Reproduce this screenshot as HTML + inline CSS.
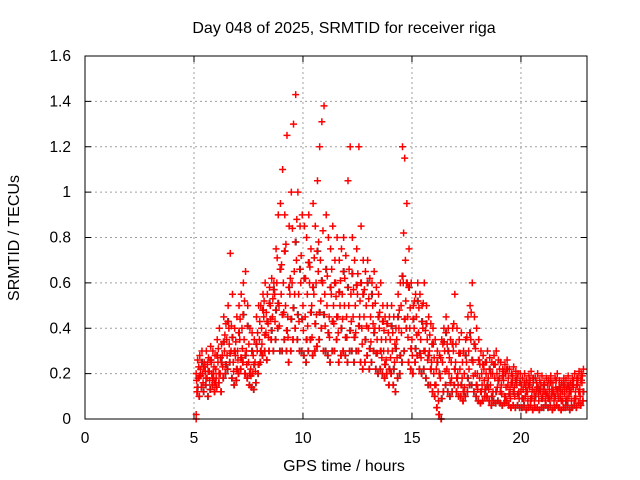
<!DOCTYPE html>
<html><head><meta charset="utf-8"><style>
body{margin:0;background:#fff;}
svg{display:block;font-family:"Liberation Sans",sans-serif;}
</style></head><body>
<svg id="chart" width="640" height="480">
<text x="344" y="33" text-anchor="middle" font-size="16">Day 048 of 2025, SRMTID for receiver riga</text>
<text x="344" y="471" text-anchor="middle" font-size="16">GPS time / hours</text>
<text x="19" y="238" text-anchor="middle" font-size="16" transform="rotate(-90 19 238)">SRMTID / TECUs</text>
<g id="grid"></g><g id="ticks"></g><g id="marks"></g>
<rect x="85" y="56" width="502" height="363" fill="none" stroke="#000" stroke-width="1"/>
</svg>
<script>
const xTicks=[0,5,10,15,20];
const yTicks=[0,0.2,0.4,0.6,0.8,1,1.2,1.4,1.6];
const yTickLabels=["0","0.2","0.4","0.6","0.8","1","1.2","1.4","1.6"];
const startHour=5.1, stepHour=0.1;
const lowVals=[.2,.18,.22,.2,.24,.18,.21,.25,.2,
.22,.25,.2,.28,.3,.35,.4,.3,.25,.28,
.3,.35,.4,.35,.3,.25,.22,.2,.25,.3,
.35,.4,.45,.38,.42,.5,.45,.55,.6,.5,
.55,.6,.5,.45,.55,.6,.65,.7,.55,.6,
.5,.45,.55,.6,.5,.55,.6,.65,.7,.6,
.55,.5,.45,.55,.5,.6,.45,.5,.55,.5,
.45,.5,.55,.45,.5,.55,.45,.4,.45,.5,
.4,.45,.5,.4,.35,.4,.35,.3,.35,.3,
.35,.3,.25,.35,.4,.5,.6,.7,.45,.4,
.35,.4,.45,.38,.35,.4,.3,.35,.3,.25,
.2,.15,.12,.18,.25,.3,.22,.2,.25,.3,
.25,.2,.22,.18,.2,.25,.3,.35,.25,.2,
.2,.18,.2,.22,.2,.18,.15,.2,.18,.2,
.18,.15,.17,.2,.15,.13,.16,.14,.15,.12,
.12,.13,.1,.12,.14,.1,.12,.13,.11,.12,
.1,.12,.11,.13,.1,.12,.14,.11,.1,.12,
.11,.13,.1,.12,.14,.12,.15,.13,.16];
const midVals=[.12,.1,.14,.12,.15,.1,.13,.15,.12,
.14,.16,.12,.18,.2,.22,.25,.18,.15,.17,
.2,.22,.25,.2,.18,.15,.14,.13,.16,.2,
.25,.28,.3,.26,.3,.35,.3,.35,.4,.3,
.3,.35,.3,.25,.3,.35,.4,.35,.3,.3,
.28,.25,.3,.35,.28,.3,.32,.35,.4,.3,
.3,.28,.25,.3,.3,.35,.25,.28,.3,.28,
.25,.3,.3,.25,.3,.3,.25,.22,.25,.28,
.22,.25,.3,.22,.2,.22,.2,.18,.2,.15,
.2,.15,.12,.18,.2,.25,.3,.4,.25,.22,
.2,.25,.28,.22,.2,.22,.18,.15,.15,.12,
.1,.05,.02,0,.12,.15,.12,.1,.12,.15,
.12,.1,.1,.08,.1,.12,.15,.15,.12,.1,
.08,.07,.08,.1,.1,.08,.06,.08,.07,.08,
.07,.06,.07,.08,.06,.05,.06,.05,.06,.05,
.05,.06,.04,.05,.06,.04,.05,.05,.04,.05,
.05,.06,.05,.06,.04,.05,.06,.05,.04,.05,
.05,.06,.04,.05,.06,.05,.07,.06,.08];
const highVals=[.26,.28,.3,.25,.3,.27,.32,.3,.28,
.35,.4,.33,.45,.42,.5,.73,.55,.4,.45,
.5,.55,.6,.65,.5,.4,.38,.35,.45,.5,
.5,.55,.6,.55,.58,.62,.6,.75,.9,.95,
1.1,.9,1.25,.85,1.0,1.3,1.43,1.0,.85,.9,
.85,.8,.9,.75,.95,.85,1.05,1.2,1.31,1.38,
.9,.8,.75,.85,.7,.8,.7,.75,.8,.72,
1.05,1.2,.8,.7,.75,1.2,.85,.7,.65,.7,
.62,.6,.65,.58,.55,.6,.5,.45,.5,.45,
.5,.45,.4,.55,.6,1.2,1.15,.95,.75,.6,
.5,.55,.6,.55,.5,.6,.5,.45,.42,.4,
.35,.3,.28,.35,.4,.45,.4,.35,.4,.55,
.4,.35,.38,.3,.35,.45,.5,.6,.45,.4,
.35,.3,.28,.25,.3,.27,.25,.28,.3,.26,
.25,.22,.24,.26,.22,.2,.23,.21,.2,.2,
.18,.2,.17,.19,.21,.16,.18,.2,.17,.19,
.16,.18,.17,.19,.16,.18,.2,.17,.16,.18,
.17,.19,.16,.18,.2,.18,.21,.2,.22];
const extraA=[.17,.23,.19,.16,.21,.24,.17,.2,.23,
.18,.31,.27,.23,.37,.28,.33,.41,.21,.34,
.26,.44,.31,.52,.24,.33,.19,.28,.21,.38,
.43,.33,.52,.47,.36,.44,.53,.43,.71,.41,
.68,.47,.77,.36,.62,.84,.55,.88,.43,.72,
.39,.62,.41,.67,.36,.71,.46,.78,.52,.83,
.41,.63,.36,.66,.42,.54,.38,.61,.44,.62,
.36,.66,.43,.57,.38,.64,.52,.33,.57,.41,
.53,.34,.42,.51,.29,.47,.27,.39,.26,.38,
.27,.38,.33,.27,.48,.38,.82,.52,.36,.49,
.28,.52,.37,.49,.27,.51,.39,.26,.37,.33,
.27,.22,.08,.27,.33,.21,.33,.27,.18,.42,
.33,.15,.29,.25,.14,.36,.22,.47,.19,.31,
.13,.24,.15,.17,.25,.13,.2,.12,.24,.14,
.22,.11,.21,.14,.18,.09,.19,.1,.18,.09,
.15,.09,.14,.08,.17,.13,.08,.16,.08,.15,
.13,.08,.15,.09,.13,.08,.17,.09,.13,.08,
.14,.09,.13,.08,.17,.09,.18,.1,.19];
const extraB=[.14,.19,.25,.23,.18,.21,.26,.18,.16,
.28,.2,.25,.34,.24,.43,.29,.36,.3,.22,
.38,.27,.46,.28,.41,.2,.3,.24,.33,.24,
.3,.48,.37,.43,.51,.39,.57,.48,.51,.66,
.46,.74,.39,.58,.44,.49,.78,.46,.66,.44,
.62,.35,.69,.47,.58,.42,.74,.47,.61,.46,
.66,.38,.58,.43,.6,.45,.56,.4,.65,.36,
.58,.39,.64,.36,.59,.41,.6,.55,.35,.6,
.31,.55,.38,.29,.45,.3,.43,.24,.42,.22,
.41,.22,.31,.45,.28,.63,.44,.6,.58,.31,
.44,.31,.52,.29,.43,.3,.42,.28,.22,.33,
.15,.25,.2,.09,.34,.38,.3,.16,.33,.22,
.18,.29,.15,.12,.28,.18,.38,.26,.33,.15,
.26,.12,.24,.13,.15,.22,.1,.24,.12,.17,
.12,.19,.1,.22,.11,.16,.12,.17,.11,.16,
.09,.16,.12,.15,.09,.18,.1,.14,.13,.09,
.15,.11,.09,.16,.12,.1,.13,.14,.08,.15,
.08,.15,.12,.15,.09,.15,.12,.17,.12];
const zeroTimes=[5.1,5.1];
const zeroVals=[0,0.02];

const X0=85,X1=587,Y0=419,Y1=56,XMAX=23.03,YMAX=1.6;
const sx=v=>X0+(X1-X0)*v/XMAX;
const sy=v=>Y0-(Y0-Y1)*v/YMAX;
const NS="http://www.w3.org/2000/svg";
const grid=document.getElementById('grid'),ticks=document.getElementById('ticks'),marks=document.getElementById('marks');
function mk(tag,attrs,parent){const e=document.createElementNS(NS,tag);for(const k in attrs)e.setAttribute(k,attrs[k]);parent.appendChild(e);return e;}
yTicks.forEach((v,i)=>{const y=sy(v);
 if(i>0&&i<yTicks.length-1){const g=mk('line',{x1:X0,x2:X1,y1:y,y2:y,stroke:'#a0a0a0','stroke-dasharray':'2,3'},grid);
 
 }
 mk('line',{x1:X0,x2:X0+6,y1:y,y2:y,stroke:'#000'},ticks);
 mk('line',{x1:X1,x2:X1-6,y1:y,y2:y,stroke:'#000'},ticks);
 const t=mk('text',{x:71,y:y+5,'text-anchor':'end','font-size':15.5},ticks);t.textContent=yTickLabels[i];
 
 
});
xTicks.forEach(v=>{const x=sx(v);
 if(v>0){const g=mk('line',{x1:x,x2:x,y1:Y0,y2:Y1,stroke:'#a0a0a0','stroke-dasharray':'2,3'},grid);
 
 }
 mk('line',{x1:x,x2:x,y1:Y0,y2:Y0-6,stroke:'#000'},ticks);
 mk('line',{x1:x,x2:x,y1:Y1,y2:Y1+6,stroke:'#000'},ticks);
 const t=mk('text',{x:x,y:443,'text-anchor':'middle','font-size':15.5},ticks);t.textContent=String(v);
 
 
});
function plus(x,y){return 'M'+(x-3.5)+' '+y+'h7M'+x+' '+(y-3.5)+'v7';}
function series(vals,off,color,name){let d='';
 vals.forEach((v,i)=>{d+=plus(sx(startHour+i*stepHour+off),sy(v));});
 const p=mk('path',{d:d,stroke:color,'stroke-width':1.5,fill:'none'},marks);
 
 }
series(midVals,0.05,'#404040','srmtid-gray-points');
series(extraB,0.08,'#404040','srmtid-gray-points-2');
series(lowVals,0,'#ff0000','srmtid-low-points');
series(midVals,0.033,'#ff0000','srmtid-mid-points');
series(highVals,0.066,'#ff0000','srmtid-high-points');
series(extraA,0.017,'#ff0000','srmtid-extra-points-a');
series(extraB,0.05,'#ff0000','srmtid-extra-points-b');
let dz='';zeroTimes.forEach((t,i)=>{dz+=plus(sx(t),sy(zeroVals[i]));});
const pz=mk('path',{d:dz,stroke:'#ff0000','stroke-width':1.5,fill:'none'},marks);


</script>
</body></html>
